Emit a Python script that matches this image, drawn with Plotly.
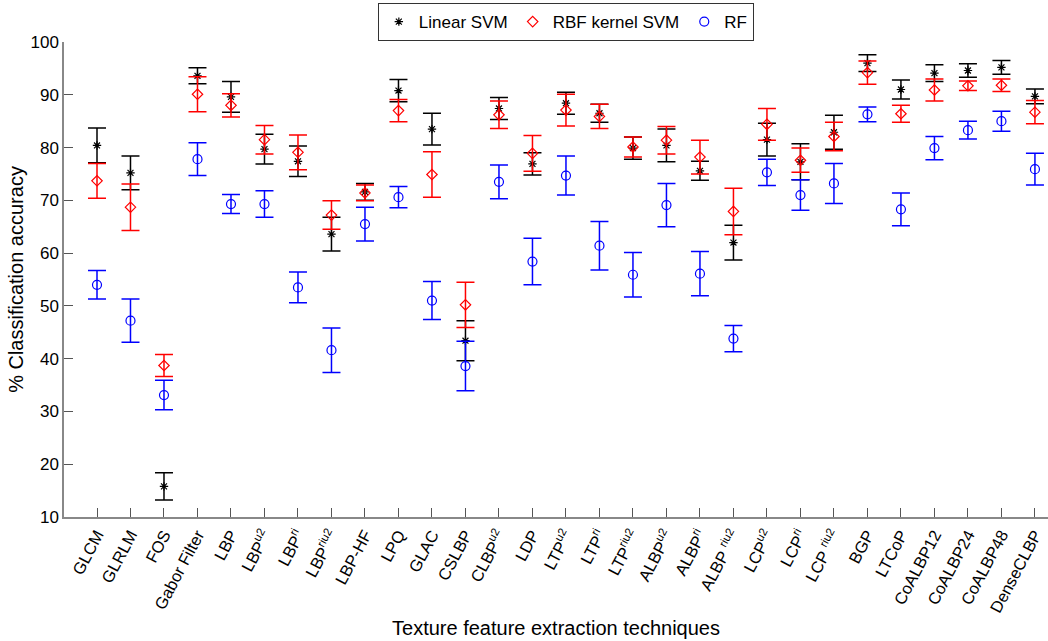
import plotly.graph_objects as go

categories = ["GLCM", "GLRLM", "FOS", "Gabor Filter", "LBP", "LBP<sup>u2</sup>", "LBP<sup>ri</sup>",
              "LBP<sup>riu2</sup>", "LBP-HF", "LPQ", "GLAC", "CSLBP", "CLBP<sup>u2</sup>", "LDP",
              "LTP<sup>u2</sup>", "LTP<sup>ri</sup>", "LTP<sup>riu2</sup>", "ALBP<sup>u2</sup>",
              "ALBP<sup>ri</sup>", "ALBP <sup>riu2</sup>", "LCP<sup>u2</sup>", "LCP<sup>ri</sup>",
              "LCP <sup>riu2</sup>", "BGP", "LTCoP", "CoALBP12", "CoALBP24", "CoALBP48", "DenseCLBP"]

linear_svm = [80.4, 75.2, 15.8, 93.6, 89.6, 79.7, 77.4, 63.6, 71.6, 90.8, 83.5, 43.4, 87.4, 76.9,
              88.4, 86.5, 79.9, 80.4, 75.6, 62.0, 81.5, 77.3, 82.9, 96.0, 91.0, 94.1, 94.6, 95.2, 89.7]
linear_err = [3.3, 3.2, 2.6, 1.5, 2.9, 2.8, 2.9, 3.2, 1.6, 2.1, 3.0, 3.8, 2.1, 2.1,
              2.1, 1.7, 2.1, 3.1, 1.8, 3.3, 3.1, 3.4, 3.2, 1.6, 1.8, 1.6, 1.3, 1.3, 1.4]

rbf_svm = [73.7, 68.7, 38.7, 90.1, 88.0, 81.5, 79.1, 67.2, 71.4, 87.0, 74.9, 50.2, 86.2, 78.9,
           87.1, 85.9, 80.1, 81.4, 78.2, 67.9, 84.4, 77.6, 82.1, 94.2, 86.4, 90.9, 91.7, 91.8, 86.7]
rbf_err = [3.3, 4.4, 2.1, 3.3, 2.2, 2.7, 3.3, 2.7, 1.5, 2.1, 4.3, 4.3, 2.6, 3.4,
           3.0, 2.3, 1.9, 2.6, 3.2, 4.4, 3.0, 2.3, 2.7, 2.2, 1.6, 2.1, 0.9, 1.2, 2.2]

rf = [54.0, 47.2, 33.1, 77.8, 69.3, 69.3, 53.5, 41.6, 65.5, 70.6, 51.0, 38.6, 73.5, 58.4,
      74.7, 61.4, 55.9, 69.1, 56.1, 43.8, 75.3, 71.0, 73.2, 86.3, 68.3, 79.9, 83.3, 85.0, 75.9]
rf_err = [2.7, 4.1, 2.8, 3.1, 1.8, 2.5, 2.9, 4.2, 3.2, 2.0, 3.6, 4.7, 3.2, 4.4,
          3.7, 4.6, 4.2, 4.1, 4.2, 2.5, 2.5, 2.9, 3.8, 1.4, 3.1, 2.2, 1.7, 1.9, 3.0]

idx = list(range(len(categories)))
FONT = "Liberation Sans, Arial, sans-serif"

fig = go.Figure()

def add_series(name, vals, errs, color, symbol, size):
    fig.add_trace(go.Scatter(
        x=idx, y=vals, mode="markers", name=name,
        marker=dict(symbol=symbol, size=size, color=color,
                    line=dict(color=color, width=1.2)),
        error_y=dict(type="data", array=errs, visible=True, color=color,
                     thickness=1.5, width=9),
    ))

add_series("Linear SVM", linear_svm, linear_err, "#000000", "asterisk-open", 7)
add_series("RBF kernel SVM", rbf_svm, rbf_err, "#ff0000", "diamond-open", 8)
add_series("RF", rf, rf_err, "#0000ff", "circle-open", 9)

fig.update_layout(
    width=1048, height=641,
    margin=dict(l=64, r=0, t=42, b=124),
    paper_bgcolor="white", plot_bgcolor="white",
    font=dict(family=FONT, size=16, color="#000000"),
    showlegend=True,
    legend=dict(orientation="h", x=0.51, xanchor="center", y=1.082, yanchor="top",
                bordercolor="#333333", borderwidth=1, bgcolor="white",
                font=dict(family=FONT, size=17), itemwidth=30,
                tracegroupgap=0),
    xaxis=dict(
        range=[-0.985, 28.39],
        tickmode="array", tickvals=idx, ticktext=categories,
        tickangle=-62, ticks="inside", ticklen=9, tickcolor="#555555",
        showline=True, linecolor="#888888", linewidth=1.5,
        showgrid=False, zeroline=False,
        tickfont=dict(family=FONT, size=16.5),
        title=dict(text="Texture feature extraction techniques",
                   font=dict(family=FONT, size=20), standoff=6),
    ),
    yaxis=dict(
        range=[10, 100],
        tickvals=[10, 20, 30, 40, 50, 60, 70, 80, 90, 100],
        ticks="inside", ticklen=9, tickcolor="#555555",
        showline=True, linecolor="#888888", linewidth=1.5,
        showgrid=False, zeroline=False,
        tickfont=dict(family=FONT, size=17),
        title=dict(text="% Classification accuracy",
                   font=dict(family=FONT, size=20), standoff=1),
    ),
)

fig.write_html("out.html")
